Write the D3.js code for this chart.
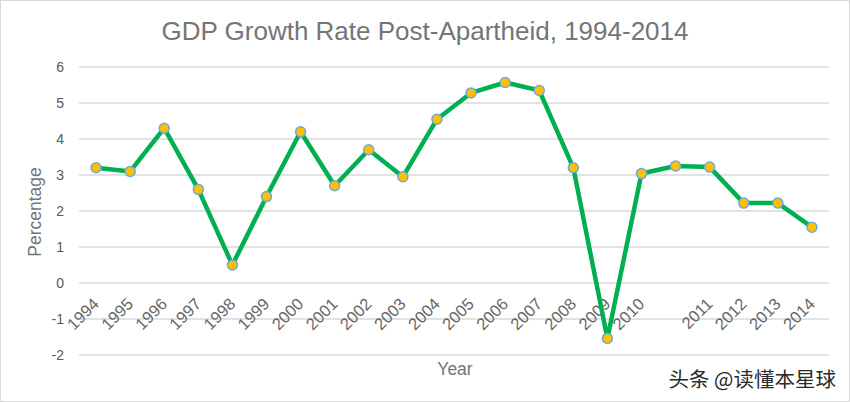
<!DOCTYPE html>
<html><head><meta charset="utf-8">
<script src="https://cdn.jsdelivr.net/npm/d3@7"></script>
<style>
html,body{margin:0;padding:0;background:#fff;}
svg{display:block;font-family:"Liberation Sans",Arial,sans-serif;}
</style></head>
<body>
<svg id="c" width="850" height="402"></svg>
<script>
const categories = ["1994","1995","1996","1997","1998","1999","2000","2001","2002","2003","2004","2005","2006","2007","2008","2009","2010","","2011","2012","2013","2014"];
const growth = [3.2,3.1,4.3,2.6,0.5,2.4,4.2,2.7,3.7,2.95,4.55,5.28,5.57,5.35,3.2,-1.54,3.04,3.25,3.22,2.22,2.22,1.55];
const yTicks = [-2,-1,0,1,2,3,4,5,6];
const title = "GDP Growth Rate Post-Apartheid, 1994-2014";
const xTitle = "Year";
const yTitle = "Percentage";
const watermark = "头条 @读懂本星球";

const svg = d3.select("#c");
const W = 850, H = 402;
svg.append("rect").attr("x",0.5).attr("y",0.5).attr("width",W-1).attr("height",H-1)
  .attr("fill","#fff").attr("stroke","#d9d9d9");

const x = d3.scaleBand().domain(d3.range(categories.length)).range([79,829]);
const y = d3.scaleLinear().domain([-2,6]).range([355,67]);

// gridlines
svg.append("g").selectAll("line").data(yTicks).join("line")
  .attr("x1",79).attr("x2",829).attr("y1",d=>y(d)).attr("y2",d=>y(d))
  .attr("stroke","#d9d9d9").attr("stroke-width",1.3);

// y axis labels
const yAxis = d3.axisLeft(y).tickValues(yTicks).tickSize(0).tickPadding(0)
  .tickFormat(d => String(d));
const gy = svg.append("g").attr("transform","translate(64,0)").call(yAxis);
gy.select(".domain").remove();
gy.selectAll("text").attr("fill","#595959").attr("font-size","14px")
  .attr("font-family","'Liberation Sans',Arial,sans-serif");

// x axis labels
const xAxis = d3.axisBottom(x).tickFormat(i=>categories[i]).tickSize(0).tickPadding(0);
const gx = svg.append("g").attr("transform",`translate(0,${y(0)})`).call(xAxis);
gx.select(".domain").remove();
gx.selectAll("text").attr("fill","#666").attr("font-size","16.5px")
  .attr("font-family","'Liberation Sans',Arial,sans-serif")
  .attr("text-anchor","end").attr("dy",null).attr("y",null)
  .attr("transform","translate(4,22) rotate(-45)");

// line
const line = d3.line().x((d,i)=>x(i)+x.bandwidth()/2).y(d=>y(d));
svg.append("path").datum(growth).attr("d",line).attr("fill","none")
  .attr("stroke","#00b050").attr("stroke-width",4.5).attr("stroke-linejoin","round");

svg.append("g").selectAll("circle").data(growth).join("circle")
  .attr("cx",(d,i)=>x(i)+x.bandwidth()/2).attr("cy",d=>y(d)).attr("r",5)
  .attr("fill","#ffc000").attr("stroke","#6fa8dc").attr("stroke-width",1.5);

// titles
svg.append("text").attr("x",425).attr("y",40).attr("text-anchor","middle")
  .attr("font-size","26px").attr("fill","#757575").text(title);
svg.append("text").attr("x",455).attr("y",375).attr("text-anchor","middle")
  .attr("font-size","17.5px").attr("fill","#757575").text(xTitle);
svg.append("text").attr("transform","translate(41,212) rotate(-90)").attr("text-anchor","middle")
  .attr("font-size","17.5px").attr("fill","#757575").text(yTitle);
svg.append("text").attr("x",836).attr("y",387).attr("text-anchor","end")
  .attr("font-family","'Noto Sans CJK SC',sans-serif")
  .attr("font-size","20.5px").attr("fill","#2a2a2a").text(watermark);
</script>
</body></html>
